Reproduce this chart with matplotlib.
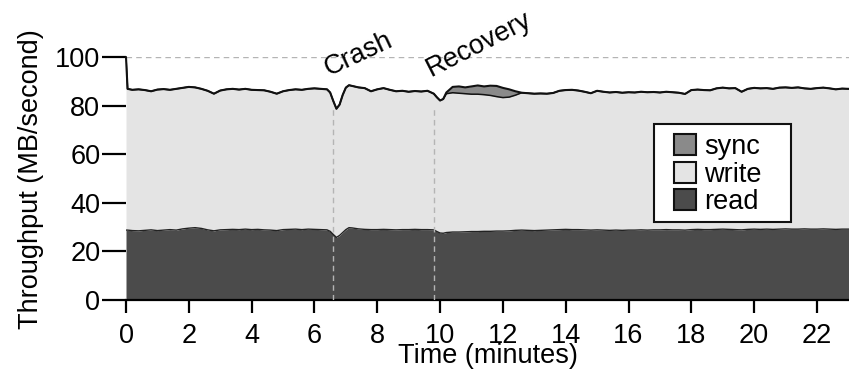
import numpy as np
import matplotlib
matplotlib.use("Agg")
from matplotlib import pyplot as plt
from matplotlib.patches import Patch, Rectangle

plt.rcParams['font.family'] = ['Liberation Sans', 'DejaVu Sans']

# time in minutes
minutes = [0.0, 0.05, 0.2, 0.4, 0.6, 0.8, 1.0, 1.2, 1.4, 1.6, 1.8, 2.0, 2.2, 2.4, 2.6, 2.8,
           3.0, 3.2, 3.4, 3.6, 3.8, 4.0, 4.2, 4.4, 4.6, 4.8, 5.0, 5.2, 5.4, 5.6, 5.8,
           6.0, 6.2, 6.4, 6.5, 6.6, 6.7, 6.8, 6.9, 7.0, 7.1, 7.2, 7.4, 7.6, 7.8,
           8.0, 8.2, 8.4, 8.6, 8.8, 9.0, 9.2, 9.4, 9.6, 9.8, 9.9, 10.0, 10.1, 10.2, 10.4,
           10.6, 10.8, 11.0, 11.2, 11.4, 11.6, 11.8, 12.0, 12.2, 12.4, 12.6, 12.8,
           13.0, 13.2, 13.4, 13.6, 13.8, 14.0, 14.2, 14.4, 14.6, 14.8, 15.0, 15.2,
           15.4, 15.6, 15.8, 16.0, 16.2, 16.4, 16.6, 16.8, 17.0, 17.2, 17.4, 17.6,
           17.8, 18.0, 18.2, 18.4, 18.6, 18.8, 19.0, 19.2, 19.4, 19.6, 19.8, 20.0,
           20.2, 20.4, 20.6, 20.8, 21.0, 21.2, 21.4, 21.6, 21.8, 22.0, 22.2, 22.4,
           22.6, 22.8, 23.0, 23.2]

# throughput, MB/second
read = [28.8, 28.8, 28.6, 28.5, 28.7, 28.9, 28.6, 28.8, 29.0, 28.8, 29.3, 29.6, 29.8, 29.5, 28.9, 28.5,
        28.9, 29.0, 29.1, 29.0, 29.2, 29.0, 29.1, 28.9, 28.8, 28.6, 29.0, 29.1, 29.2, 29.0, 29.2,
        29.1, 29.0, 28.9, 28.3, 27.0, 25.8, 26.6, 27.8, 29.0, 29.8, 29.7, 29.3, 29.1, 29.0,
        29.0, 29.1, 29.0, 28.9, 29.0, 29.0, 29.1, 29.0, 29.0, 28.9, 28.2, 27.6, 27.5, 27.8, 28.0,
        28.0, 28.1, 28.2, 28.2, 28.3, 28.3, 28.4, 28.4, 28.5, 28.7, 28.8, 28.7,
        28.6, 28.7, 28.8, 28.9, 29.0, 29.1, 29.0, 29.0, 28.9, 28.8, 28.9, 28.8,
        28.7, 28.8, 28.7, 28.8, 28.8, 28.9, 28.8, 28.9, 28.9, 29.0, 28.9, 28.9,
        28.8, 29.0, 29.1, 29.0, 29.0, 29.1, 29.2, 29.1, 29.0, 28.9, 29.1, 29.2,
        29.1, 29.2, 29.1, 29.2, 29.3, 29.2, 29.2, 29.3, 29.2, 29.2, 29.3, 29.2,
        29.1, 29.2, 29.2, 29.2]

write = [71.2, 58.2, 58.0, 58.3, 57.8, 57.1, 58.1, 58.1, 57.6, 58.2, 58.1, 58.2, 57.8, 57.5, 57.3, 56.5,
         57.4, 57.8, 57.9, 57.7, 57.8, 57.6, 57.4, 57.5, 57.0, 56.4, 57.0, 57.4, 57.6, 57.6, 57.8,
         58.1, 58.0, 57.9, 57.2, 55.0, 53.0, 53.9, 56.7, 58.5, 58.7, 58.5, 58.3, 58.2, 57.0,
         57.8, 58.2, 57.6, 57.1, 57.2, 56.8, 57.0, 56.9, 57.2, 56.1, 55.3, 54.6, 55.3, 57.2, 57.4,
         57.2, 56.9, 56.6, 56.6, 56.3, 56.0, 55.4, 55.0, 55.1, 55.7, 56.6, 56.5,
         56.4, 56.4, 56.2, 56.4, 57.2, 57.4, 57.6, 57.3, 56.9, 56.4, 57.3, 57.0,
         56.8, 56.9, 56.7, 56.8, 56.7, 56.9, 56.8, 56.8, 56.6, 56.8, 56.7, 56.5,
         56.1, 57.5, 57.6, 57.5, 57.4, 58.1, 58.3, 58.1, 58.3, 56.9, 57.9, 58.2,
         58.1, 58.1, 57.9, 58.3, 58.3, 58.2, 58.4, 57.9, 57.8, 58.1, 58.2, 58.0,
         57.7, 57.9, 57.8, 57.9]

sync = [0.0] * 58 + [0.5, 2.4, 2.8, 2.6, 3.2, 3.6, 3.4, 4.0, 4.4, 4.0, 3.2, 1.6] + [0.0] * 54

series_names = ['sync', 'write', 'read']
series_colors = {'sync': '#8a8a8a', 'write': '#e4e4e4', 'read': '#4b4b4b'}

event_names = ['Crash', 'Recovery']
event_times = [6.6, 9.8]

t = np.array(minutes)
r = np.array(read)
rw = r + np.array(write)
total = rw + np.array(sync)

fig = plt.figure(figsize=(8.49, 3.74), dpi=100)
ax = fig.add_axes([126 / 849, 74 / 374, 723 / 849, 242.7 / 374])

ax.fill_between(t, 0, r, color=series_colors['read'], lw=0)
ax.fill_between(t, r, rw, color=series_colors['write'], lw=0)
ax.fill_between(t, rw, total, color=series_colors['sync'], lw=0)
ax.plot(t, r, color='#222222', lw=1.0)
ax.plot(t, rw, color='#111111', lw=1.1)
ax.plot(t, total, color='#111111', lw=1.5, clip_on=False)

ax.axhline(100, color='#b4b4b4', lw=1.0, ls=(0, (4, 3)), zorder=0.5)
ax.vlines(event_times, 0, 79, colors='#b4b4b4', lw=1.0, linestyles=(0, (4, 3)), zorder=3)

# event labels, slanted
label_pos = [(6.45, 92.5), (9.7, 92.0)]
label_rot = [25, 27]
for name, (x, y), rot in zip(event_names, label_pos, label_rot):
    ax.text(x, y, name, rotation=rot, rotation_mode='anchor', ha='left', va='baseline',
            fontsize=19.5, clip_on=False)

ax.set_xlim(0, 23.02)
ax.set_ylim(0, 100)
ax.set_xticks(np.arange(0, 23, 2))
ax.set_yticks(np.arange(0, 101, 20))
for s in ['top', 'right', 'left']:
    ax.spines[s].set_visible(False)
ax.spines['bottom'].set_linewidth(1.6)
ax.tick_params(axis='both', labelsize=19.5, width=1.6)
ax.tick_params(axis='y', length=17, pad=1.5)
ax.tick_params(axis='x', length=9.5, pad=7)

ax.set_xlabel('Time (minutes)', fontsize=19.5, labelpad=-4)
ax.set_ylabel('Throughput (MB/second)', fontsize=19.5)
ax.yaxis.set_label_coords(-0.113, 0.5)

# legend entries without frame, box drawn separately (wider on the right)
handles = [Patch(facecolor=series_colors[n], edgecolor='#111111', lw=1.5) for n in series_names]
leg = ax.legend(handles, series_names, loc='upper left', bbox_to_anchor=(0.758, 0.683),
                borderaxespad=0, fontsize=19.5, frameon=False, handlelength=0.82,
                handleheight=0.82, handletextpad=0.3, labelspacing=0.05, borderpad=0)
ax.add_patch(Rectangle((0.7303, 0.3214), 0.1895, 0.4038, transform=ax.transAxes,
                       facecolor='white', edgecolor='#111111', lw=1.5, zorder=4))
leg.set_zorder(5)

fig.savefig('out.png', dpi=100)
